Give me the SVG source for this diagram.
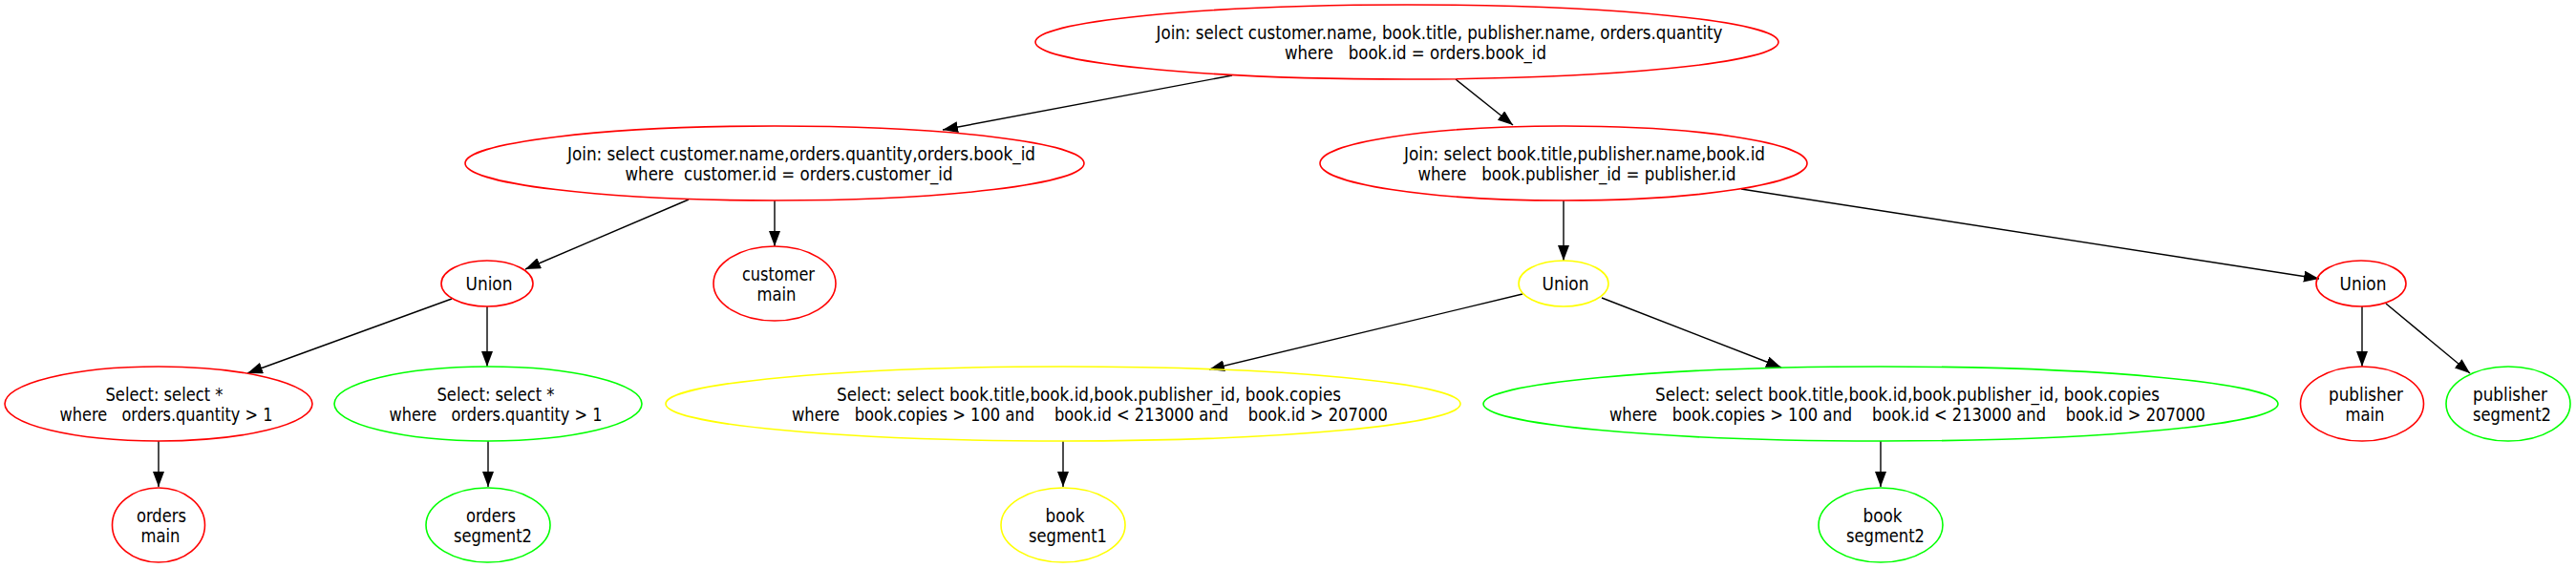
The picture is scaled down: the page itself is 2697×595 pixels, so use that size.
<svg xmlns="http://www.w3.org/2000/svg" width="2697" height="595" viewBox="0 0 2697 595">
<defs>
<style>
.n{fill:none;stroke-width:1.6}
.r{stroke:#ff0000}
.g{stroke:#00ff00}
.y{stroke:#ffff00}
text{font-family:"DejaVu Sans Condensed","DejaVu Sans",sans-serif;font-size:20px;fill:#000;text-anchor:middle}
.e line{stroke:#000;stroke-width:1.4}
</style>
<marker id="arr" markerUnits="userSpaceOnUse" markerWidth="17" markerHeight="12" refX="16" refY="6" orient="auto" viewBox="0 0 17 12">
<path d="M0,0 L16,6 L0,12 z" fill="#000"/>
</marker>
</defs>
<rect width="2697" height="595" fill="#fff"/>
<g id="edges" class="e">
<line x1="1290" y1="79" x2="987" y2="136" marker-end="url(#arr)"/>
<line x1="1524" y1="83" x2="1584" y2="131" marker-end="url(#arr)"/>
<line x1="721" y1="209" x2="550" y2="282" marker-end="url(#arr)"/>
<line x1="811" y1="210" x2="811" y2="258" marker-end="url(#arr)"/>
<line x1="1637" y1="210" x2="1637" y2="273" marker-end="url(#arr)"/>
<line x1="1823" y1="198" x2="2428" y2="292" marker-end="url(#arr)"/>
<line x1="473" y1="313" x2="259" y2="391" marker-end="url(#arr)"/>
<line x1="510" y1="321" x2="510" y2="384" marker-end="url(#arr)"/>
<line x1="1594" y1="308" x2="1266" y2="387" marker-end="url(#arr)"/>
<line x1="1677" y1="312" x2="1865" y2="385" marker-end="url(#arr)"/>
<line x1="2473" y1="321" x2="2473" y2="384" marker-end="url(#arr)"/>
<line x1="2498" y1="318" x2="2586" y2="391" marker-end="url(#arr)"/>
<line x1="166" y1="462" x2="166" y2="510" marker-end="url(#arr)"/>
<line x1="511" y1="462" x2="511" y2="510" marker-end="url(#arr)"/>
<line x1="1113" y1="462" x2="1113" y2="510" marker-end="url(#arr)"/>
<line x1="1969" y1="462" x2="1969" y2="510" marker-end="url(#arr)"/>
</g>
<g id="join_top">
<ellipse class="n r" cx="1473" cy="44" rx="389" ry="39"/>
<text x="1507" y="40.5" xml:space="preserve" textLength="593" lengthAdjust="spacingAndGlyphs">Join: select customer.name, book.title, publisher.name, orders.quantity</text>
<text x="1482" y="61.5" xml:space="preserve" textLength="274" lengthAdjust="spacingAndGlyphs">where   book.id = orders.book_id</text>
</g>
<g id="join_left">
<ellipse class="n r" cx="811" cy="171" rx="324" ry="39"/>
<text x="839" y="167.5" xml:space="preserve" textLength="490" lengthAdjust="spacingAndGlyphs">Join: select customer.name,orders.quantity,orders.book_id</text>
<text x="826" y="188.5" xml:space="preserve" textLength="343" lengthAdjust="spacingAndGlyphs">where  customer.id = orders.customer_id</text>
</g>
<g id="join_right">
<ellipse class="n r" cx="1637" cy="171" rx="255" ry="39"/>
<text x="1659" y="167.5" xml:space="preserve" textLength="378" lengthAdjust="spacingAndGlyphs">Join: select book.title,publisher.name,book.id</text>
<text x="1651" y="188.5" xml:space="preserve" textLength="333" lengthAdjust="spacingAndGlyphs">where   book.publisher_id = publisher.id</text>
</g>
<g id="union_left">
<ellipse class="n r" cx="510" cy="297" rx="48" ry="24"/>
<text x="512" y="304" textLength="49" lengthAdjust="spacingAndGlyphs">Union</text>
</g>
<g id="customer_main">
<ellipse class="n r" cx="811" cy="297" rx="64" ry="39"/>
<text x="815" y="293.5" textLength="76" lengthAdjust="spacingAndGlyphs">customer</text>
<text x="813" y="314.5" textLength="41" lengthAdjust="spacingAndGlyphs">main</text>
</g>
<g id="union_mid">
<ellipse class="n y" cx="1637" cy="297" rx="47" ry="24"/>
<text x="1639" y="304" textLength="49" lengthAdjust="spacingAndGlyphs">Union</text>
</g>
<g id="union_right">
<ellipse class="n r" cx="2472" cy="297" rx="47" ry="24"/>
<text x="2474" y="304" textLength="49" lengthAdjust="spacingAndGlyphs">Union</text>
</g>
<g id="select_orders_main">
<ellipse class="n r" cx="166" cy="423" rx="161" ry="39"/>
<text x="172" y="419.5" xml:space="preserve" textLength="123" lengthAdjust="spacingAndGlyphs">Select: select *</text>
<text x="174" y="440.5" xml:space="preserve" textLength="223" lengthAdjust="spacingAndGlyphs">where   orders.quantity &gt; 1</text>
</g>
<g id="select_orders_seg2">
<ellipse class="n g" cx="511" cy="423" rx="161" ry="39"/>
<text x="519" y="419.5" xml:space="preserve" textLength="123" lengthAdjust="spacingAndGlyphs">Select: select *</text>
<text x="519" y="440.5" xml:space="preserve" textLength="223" lengthAdjust="spacingAndGlyphs">where   orders.quantity &gt; 1</text>
</g>
<g id="select_book_seg1">
<ellipse class="n y" cx="1113" cy="423" rx="416" ry="39"/>
<text x="1140" y="419.5" xml:space="preserve" textLength="528" lengthAdjust="spacingAndGlyphs">Select: select book.title,book.id,book.publisher_id, book.copies</text>
<text x="1141" y="440.5" xml:space="preserve" textLength="624" lengthAdjust="spacingAndGlyphs">where   book.copies &gt; 100 and    book.id &lt; 213000 and    book.id &gt; 207000</text>
</g>
<g id="select_book_seg2">
<ellipse class="n g" cx="1969" cy="423" rx="416" ry="39"/>
<text x="1997" y="419.5" xml:space="preserve" textLength="528" lengthAdjust="spacingAndGlyphs">Select: select book.title,book.id,book.publisher_id, book.copies</text>
<text x="1997" y="440.5" xml:space="preserve" textLength="624" lengthAdjust="spacingAndGlyphs">where   book.copies &gt; 100 and    book.id &lt; 213000 and    book.id &gt; 207000</text>
</g>
<g id="publisher_main">
<ellipse class="n r" cx="2473" cy="423" rx="64.5" ry="39"/>
<text x="2477" y="419.5" textLength="78" lengthAdjust="spacingAndGlyphs">publisher</text>
<text x="2476" y="440.5" textLength="41" lengthAdjust="spacingAndGlyphs">main</text>
</g>
<g id="publisher_seg2">
<ellipse class="n g" cx="2626" cy="423" rx="65" ry="39"/>
<text x="2628" y="419.5" textLength="78" lengthAdjust="spacingAndGlyphs">publisher</text>
<text x="2630" y="440.5" textLength="82" lengthAdjust="spacingAndGlyphs">segment2</text>
</g>
<g id="orders_main">
<ellipse class="n r" cx="166" cy="550" rx="48.5" ry="39"/>
<text x="169" y="546.5" textLength="52" lengthAdjust="spacingAndGlyphs">orders</text>
<text x="168" y="567.5" textLength="41" lengthAdjust="spacingAndGlyphs">main</text>
</g>
<g id="orders_seg2">
<ellipse class="n g" cx="511" cy="550" rx="65" ry="39"/>
<text x="514" y="546.5" textLength="52" lengthAdjust="spacingAndGlyphs">orders</text>
<text x="516" y="567.5" textLength="82" lengthAdjust="spacingAndGlyphs">segment2</text>
</g>
<g id="book_seg1">
<ellipse class="n y" cx="1113" cy="550" rx="65" ry="39"/>
<text x="1115" y="546.5" textLength="41" lengthAdjust="spacingAndGlyphs">book</text>
<text x="1118" y="567.5" textLength="82" lengthAdjust="spacingAndGlyphs">segment1</text>
</g>
<g id="book_seg2">
<ellipse class="n g" cx="1969" cy="550" rx="65" ry="39"/>
<text x="1971" y="546.5" textLength="41" lengthAdjust="spacingAndGlyphs">book</text>
<text x="1974" y="567.5" textLength="82" lengthAdjust="spacingAndGlyphs">segment2</text>
</g>
</svg>
